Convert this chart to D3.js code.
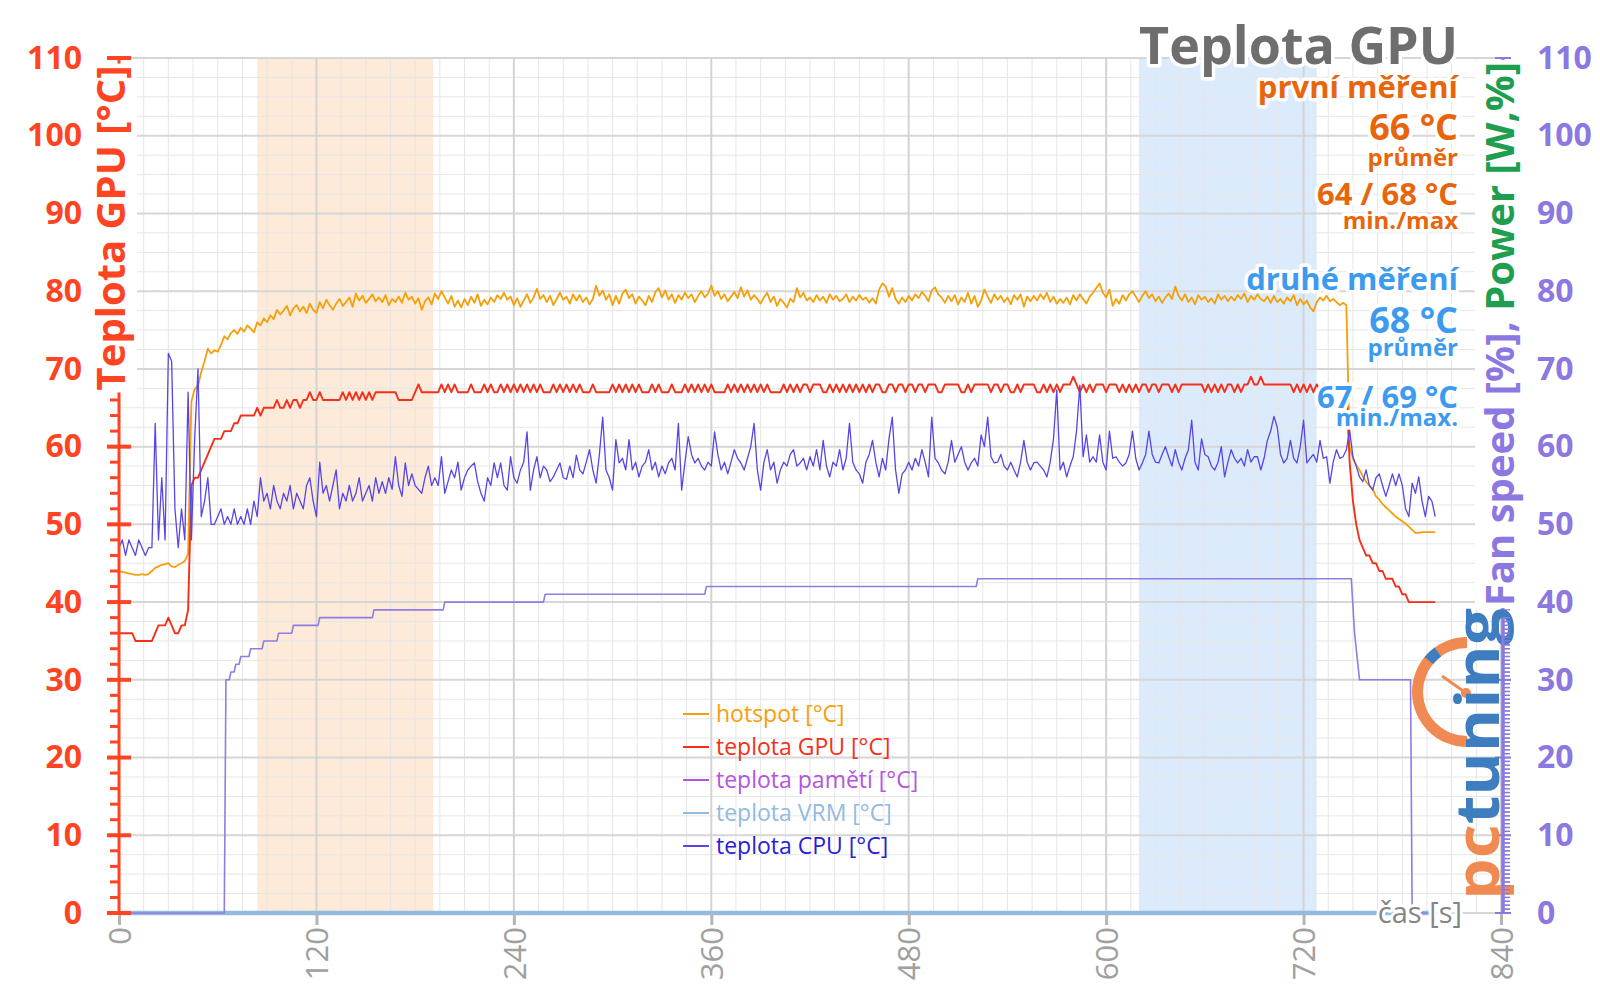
<!DOCTYPE html>
<html><head><meta charset="utf-8">
<script src="https://cdn.jsdelivr.net/npm/d3@7"></script>
<style>
html,body{margin:0;padding:0;background:#fff;}
svg{display:block;font-family:"Open Sans",sans-serif;}
</style></head><body>
<svg id="chart" width="1600" height="1008"></svg>
<script>
// ---------- data ----------
const xTicks = [0, 120, 240, 360, 480, 600, 720, 840];
const yTicks = [0, 10, 20, 30, 40, 50, 60, 70, 80, 90, 100, 110];
const sampleStep = 2; // seconds between samples, first sample at 0 s

const hotspot = [
44.0,43.9,43.8,43.7,43.6,43.5,43.5,43.6,43.5,43.6,
44.0,44.4,44.6,44.8,44.9,45.0,44.6,44.5,44.8,45.0,
45.3,46.2,65.8,67.4,67.8,69.6,71.0,72.6,72.0,72.4,
72.2,73.1,74.2,73.8,74.6,75.0,74.5,75.3,74.8,75.6,
75.2,74.7,76.0,75.6,76.5,76.0,76.9,76.4,77.6,77.0,
77.5,78.1,76.9,77.8,78.2,77.4,78.0,77.2,78.4,77.6,
77.2,78.6,77.8,78.9,78.2,77.6,78.4,79.0,78.1,78.6,
79.2,78.0,79.7,78.8,79.4,78.5,79.0,79.6,78.7,79.2,
78.6,79.5,78.2,79.0,78.6,79.3,78.5,79.8,78.9,79.3,
78.4,79.1,77.6,78.7,79.2,78.3,79.7,79.0,80.0,79.2,
78.4,79.4,78.0,78.8,77.9,79.0,78.2,79.3,78.5,79.6,
78.1,78.9,78.3,79.2,78.6,79.5,79.0,79.8,78.9,79.3,
78.2,79.1,78.0,78.8,79.6,78.5,79.2,80.3,79.0,79.5,
78.6,79.4,78.2,79.0,79.8,78.9,79.3,78.4,79.6,78.8,
79.5,78.6,79.2,78.3,79.0,80.7,79.4,80.1,78.9,79.6,
78.2,79.4,78.4,79.7,80.2,79.1,79.6,78.4,79.3,78.8,
78.2,79.4,78.6,79.9,80.4,79.2,80.1,78.9,79.6,78.5,
79.5,78.9,79.8,79.1,79.6,78.6,79.4,80.0,79.2,79.7,
80.7,79.4,80.0,79.0,79.6,78.7,79.3,79.9,79.1,80.5,
79.3,80.1,78.9,79.5,79.0,78.4,79.2,79.8,78.6,79.3,
78.1,79.0,78.5,77.9,79.0,78.6,80.4,79.2,79.8,78.8,
79.2,78.6,79.5,78.8,79.3,78.5,79.6,78.9,79.4,78.7,
79.0,79.6,78.6,79.3,78.8,79.5,78.9,79.2,78.5,79.1,
78.4,80.2,81.0,80.6,79.3,80.4,79.0,78.4,79.2,78.6,
79.4,78.8,79.6,79.1,79.9,79.4,78.7,80.1,80.5,79.6,
79.2,78.5,79.4,78.7,79.5,78.3,79.2,78.6,79.8,78.4,
79.4,78.0,78.8,80.2,79.3,78.5,79.6,78.9,79.4,78.6,
79.2,78.3,79.5,78.9,79.6,78.0,79.3,78.7,79.4,78.8,
79.6,79.0,79.8,78.6,79.3,78.4,79.0,78.5,79.2,78.3,
79.5,78.8,79.6,79.0,78.4,79.3,79.8,80.4,81.0,79.8,
79.2,80.2,78.1,79.0,78.4,79.5,78.8,79.6,80.0,79.3,
78.6,79.4,80.0,79.1,79.6,78.7,79.3,78.5,79.2,79.7,
79.0,80.6,79.4,78.8,79.6,78.6,79.2,78.3,79.5,78.9,
79.3,78.6,79.1,78.4,79.6,78.9,79.4,78.7,79.3,78.8,
79.5,79.0,79.7,78.6,79.4,78.9,79.6,79.0,78.7,79.3,
78.5,79.4,78.6,79.0,78.4,79.2,78.7,79.5,78.2,79.0,
78.3,78.8,77.9,77.4,78.6,79.2,78.8,79.4,78.7,79.0,
78.6,78.2,78.5,78.2,60.0,58.5,57.6,57.0,56.2,55.5,
55.0,54.6,53.6,53.2,52.6,52.2,51.8,51.4,51.0,50.7,
50.4,50.1,49.7,49.3,48.9,48.9,49.0,49.0,49.0,49.0,
49.0];

const gpuTemp = [
36,36,36,36,36,35,35,35,35,35,
35,36,37,37,37,38,37,36,36,37,
37,39,55,56,56,57,58,59,60,61,
61,61,62,62,62,63,63,64,64,64,
64,64,65,64,65,65,65,65,66,65,
65,66,65,66,66,65,66,66,67,66,
66,67,66,66,66,66,66,66,67,66,
67,66,67,66,67,66,67,66,67,67,
67,67,67,67,67,66,66,66,66,66,
67,68,67,67,67,67,67,67,68,67,
68,67,68,67,67,67,67,68,67,67,
67,68,67,68,67,67,68,67,68,67,
68,67,68,67,68,67,68,67,68,67,
67,67,68,67,68,67,68,67,68,67,
68,67,67,67,68,67,67,67,67,67,
68,67,68,67,68,67,68,67,68,67,
67,67,68,67,68,67,67,67,68,67,
67,67,68,67,68,67,68,67,68,67,
68,67,67,67,67,68,67,68,67,68,
67,68,67,68,67,68,67,68,67,67,
67,67,68,67,68,67,68,67,68,68,
67,68,68,68,67,67,68,67,68,67,
68,67,68,67,68,67,68,67,68,67,
68,68,67,67,68,68,67,68,68,67,
68,68,67,68,68,67,68,68,68,67,
67,68,68,68,68,68,67,67,68,67,
68,68,68,68,68,67,68,68,67,68,
68,67,67,68,67,68,68,68,68,67,
67,68,67,68,67,68,67,68,68,68,
69,68,67,68,67,68,67,68,68,68,
67,68,68,68,67,68,67,68,67,68,
67,68,68,67,68,68,67,68,68,68,
67,68,67,68,68,68,68,68,68,68,
67,68,67,68,67,68,67,68,68,67,
68,67,68,68,69,68,68,69,68,68,
68,68,68,68,68,68,68,67,68,67,
68,67,68,67,68,67,68,68,68,68,
68,68,68,68,58,53,50,48,47,46,
46,45,45,44,44,43,43,43,42,42,
41,41,40,40,40,40,40,40,40,40,
40];

const cpuTemp = [
47,48,46,48,47,46,48,47,46,47,
47,63,48,56,48,72,71,52,47,52,
48,67,48,61,70,51,53,56,50,50,
51,52,50,51,50,52,50,51,50,52,
50,53,51,56,53,54,52,55,53,52,
54,53,55,52,54,53,52,55,56,53,
51,58,54,55,53,55,57,52,54,53,
55,53,54,56,53,54,55,53,56,54,
55.5,54,56,54.5,58.7,55,53.6,57.9,55,56.5,
55,54.5,54,56,57.5,55,56,55,58.7,54,
55.5,57,56,58,54.4,56,57,57.5,57.9,55.5,
54,53,56,55,57.9,56,57.9,55,54.4,58.7,
56,55.3,57,58,61.9,54.4,57,58.7,56,57.5,
57,55.5,56.1,57,57.9,56,55.8,57.5,56,58.9,
57,56.5,58,59.6,57,55.3,59,63.8,57,56,
54.4,60.9,57.9,58.5,57,60.9,57,58,56.1,57.5,
58,59.6,57,58,56.1,57.5,56.5,57.9,58.5,57,
63,54.4,58,61.3,59,57.9,58.5,57.5,57,58,
57.5,61.9,59,57,58,56.5,58,59.6,58.5,57.9,
57,58.5,60,63,57,54.4,58,59.6,57,58,
55.3,57,58,57.5,59,59.6,57.5,57.9,58.5,57,
58.7,57.5,59.6,57,60.8,57.5,56.1,58,57.5,59.6,
57,58.5,63,58,57,56.5,55.3,58,59,60.8,
58,56.1,58.5,57,61,63.8,57,54,56.5,57,
58,57,58.5,57.5,59.6,58,56.1,63.8,58.5,57.9,
57,56.5,58,60.8,58,59,60,58,57,57.9,
58.5,57.5,61.5,60,63.8,58.7,57.9,58,59,57.5,
57,58,57,56.1,58,60.8,58,57,57.9,58,
57.5,57,56.1,58,61,67.3,57,58,56.1,57.5,
58.7,62,67.9,58.7,61.5,58,58.7,58,61.5,58,
57,62,58.5,58.7,58,57.5,57.9,59,62,58.5,
57,57.9,59,62,59,58,57.9,59,60,58.7,
57.5,59.6,58,57,58.5,59.6,63.4,58,57,61,
59,58.7,57.5,57,58,60,56.1,58,59.6,58.5,
57.9,58.5,57.5,59.6,58,58.7,58.7,57,58.5,60.8,
62,63.9,62.5,59,57.9,58.5,60.8,58.5,57.9,60,
63.4,57.9,58.5,59,58,60.8,58.5,58.7,55.3,58,
59.6,58.5,58.7,59.6,62.1,58.7,57.5,56.1,55.5,57,
55,54.4,56,56.5,55,53.6,55,56.5,55,56.5,
55,52,51,55.3,54,56.1,53,51,53.6,53,
51];

// fan speed (right axis) – step line, time / value pairs
const fanT = [0,64,65,67,68,70,71,73,74,79,80,87,88,96,97,105,106,121,122,154,155,197,198,258,259,356,357,521,522,749,751,754,785,786,800];
const fanV = [0,0,30,30,31,31,32,32,33,33,34,34,35,35,36,36,37,37,38,38,39,39,40,40,41,41,42,42,43,43,36,30,30,0,0];

// memory & VRM temperature (no reading -> 0)
const flatT = [0, 800];
const memTemp = [0, 0];
const vrmTemp = [0, 0];

// highlighted measurement windows [start s, end s]
const bandStart = [84, 620];
const bandEnd = [191, 728];

const legendLabels = ["hotspot [°C]", "teplota GPU [°C]", "teplota pamětí [°C]", "teplota VRM [°C]", "teplota CPU [°C]"];

// ---------- drawing ----------
const svg = d3.select("#chart");
const x = d3.scaleLinear().domain([0, 840]).range([119, 1501]);
const y = d3.scaleLinear().domain([0, 110]).range([913, 58]);

const C = {
  hot: "#F5A00A", gpu: "#F5301A", mem: "#B455E0", vrm: "#93BADF", cpu: "#5646E6", fan: "#8E7DE2",
  left: "#FF4422", right: "#8C78E0", green: "#1F9E4F", grey: "#6e6e6e", first: "#E8650C", second: "#3D9BEE"
};

svg.append("rect").attr("width", 1600).attr("height", 1008).attr("fill", "#fff");

// bands
const bandColors = ["#FDEAD9", "#DCEBFB"];
bandStart.forEach((s, i) => {
  svg.append("rect").attr("x", x(s)).attr("y", y(110)).attr("width", x(bandEnd[i]) - x(s))
    .attr("height", y(0) - y(110)).attr("fill", bandColors[i]);
});

// grid
const grid = svg.append("g");
d3.range(0, 841, 15).filter(t => t % 120 !== 0).forEach(t => {
  grid.append("line").attr("x1", x(t)).attr("x2", x(t)).attr("y1", y(110)).attr("y2", y(0))
    .attr("stroke", "#e6e6e6").attr("stroke-width", 1);
});
d3.range(0, 110.1, 2.5).filter(v => v % 10 !== 0).forEach(v => {
  grid.append("line").attr("x1", x(0)).attr("x2", x(840)).attr("y1", y(v)).attr("y2", y(v))
    .attr("stroke", "#e6e6e6").attr("stroke-width", 1);
});
yTicks.forEach(v => {
  grid.append("line").attr("x1", x(0)).attr("x2", x(840)).attr("y1", y(v)).attr("y2", y(v))
    .attr("stroke", "#d6d6d6").attr("stroke-width", 2);
});
xTicks.forEach(t => {
  grid.append("line").attr("x1", x(t)).attr("x2", x(t)).attr("y1", y(110)).attr("y2", y(0))
    .attr("stroke", "#d3d3d3").attr("stroke-width", 2);
});

// series
const tOf = i => i * sampleStep;
function drawSeries(vals, color, width, times) {
  const line = d3.line().x((d, i) => x(times ? times[i] : tOf(i))).y(d => y(d));
  svg.append("path").datum(vals).attr("d", line).attr("fill", "none")
    .attr("stroke", color).attr("stroke-width", width).attr("stroke-linejoin", "round");
}
drawSeries(hotspot, C.hot, 1.8);
drawSeries(gpuTemp, C.gpu, 1.9);
drawSeries(memTemp, C.mem, 2, flatT);
drawSeries(vrmTemp, C.vrm, 4.5, flatT);
drawSeries(cpuTemp, C.cpu, 1.3);
drawSeries(fanV, C.fan, 1.6, fanT);

// x axis
const xAxis = svg.append("g").attr("transform", `translate(0,${y(0)})`)
  .call(d3.axisBottom(x).tickValues(xTicks).tickSize(12).tickFormat(d3.format("d")));
xAxis.select(".domain").remove();
xAxis.selectAll(".tick line").attr("stroke", "#b5b5b5").attr("stroke-width", 3);
xAxis.selectAll(".tick text").attr("transform", "rotate(-90)").attr("x", -14).attr("y", 0)
  .attr("dy", "0.36em").attr("text-anchor", "end").attr("fill", "#a0a0a0")
  .attr("font-size", 31).attr("font-family", "Open Sans");

// left axis
const yl = svg.append("g").attr("transform", `translate(${x(0)},0)`)
  .call(d3.axisLeft(y).tickValues(yTicks).tickSize(0).tickPadding(37));
yl.select(".domain").remove();
yl.selectAll(".tick text").attr("fill", C.left).attr("font-size", 32).attr("font-weight", 700)
  .attr("font-family", "Open Sans");
svg.append("line").attr("x1", x(0)).attr("x2", x(0)).attr("y1", y(110)).attr("y2", y(0))
  .attr("stroke", C.left).attr("stroke-width", 3);
d3.range(0, 110.1, 2).forEach(v => {
  svg.append("line").attr("x1", x(0) - 9).attr("x2", x(0)).attr("y1", y(v)).attr("y2", y(v))
    .attr("stroke", C.left).attr("stroke-width", 3);
});
function leftMajor(v) {
  svg.append("line").attr("x1", x(0) - 12).attr("x2", x(0) + 12).attr("y1", y(v)).attr("y2", y(v))
    .attr("stroke", C.left).attr("stroke-width", 4);
}
yTicks.forEach(leftMajor);

// right axis
const xr = 1503;
const yr = svg.append("g").attr("transform", `translate(${xr},0)`)
  .call(d3.axisRight(y).tickValues(yTicks).tickSize(0).tickPadding(34));
yr.select(".domain").remove();
yr.selectAll(".tick text").attr("fill", C.right).attr("font-size", 32).attr("font-weight", 700)
  .attr("font-family", "Open Sans");
svg.append("line").attr("x1", xr).attr("x2", xr).attr("y1", y(110)).attr("y2", y(0))
  .attr("stroke", C.right).attr("stroke-width", 3);
d3.range(0, 110.1, 0.5).forEach(v => {
  svg.append("line").attr("x1", xr).attr("x2", xr + 7).attr("y1", y(v)).attr("y2", y(v))
    .attr("stroke", C.right).attr("stroke-width", 1.3);
});
function rightMajor(v) {
  svg.append("line").attr("x1", xr - 8).attr("x2", xr + 8).attr("y1", y(v)).attr("y2", y(v))
    .attr("stroke", C.right).attr("stroke-width", 2);
}
yTicks.forEach(rightMajor);

// halo text helper
function halo(sel, w) {
  return sel.attr("stroke", "#fff").attr("stroke-width", w).attr("stroke-linejoin", "round")
    .attr("paint-order", "stroke");
}
function boxedTitle(tf) {
  const g = svg.append("g").attr("transform", tf);
  const r = g.append("rect").attr("fill", "#fff");
  const t = g.append("text").attr("text-anchor", "middle").attr("font-size", 40).attr("font-weight", 700);
  return [g, r, t];
}
function fitBox(r, t) {
  const b = t.node().getBBox();
  r.attr("x", b.x - 2).attr("y", b.y + 4).attr("width", b.width + 4).attr("height", b.height - 4);
}

// axis titles
const [lg, lr, ltx] = boxedTitle("translate(125,228) rotate(-90)");
ltx.attr("fill", C.left).text("Teplota GPU [°C]");
fitBox(lr, ltx);

// logo watermark
const logo = svg.append("g");
logo.append("path")
  .attr("d", d3.arc().innerRadius(44).outerRadius(55).startAngle(Math.PI).endAngle(2 * Math.PI)())
  .attr("transform", "translate(1467,692)").attr("fill", "#F08A52");
logo.append("path")
  .attr("d", d3.arc().innerRadius(44).outerRadius(55).startAngle(1.72 * Math.PI).endAngle(1.8 * Math.PI)())
  .attr("transform", "translate(1467,692)").attr("fill", "#3D7DC0");
logo.append("line").attr("x1", 1466).attr("y1", 693).attr("x2", 1442).attr("y2", 676)
  .attr("stroke", "#F08A52").attr("stroke-width", 3);
logo.append("circle").attr("cx", 1466).attr("cy", 693).attr("r", 5).attr("fill", "#F08A52");

const [rg, rr, rtx] = boxedTitle("translate(1514,334) rotate(-90)");
rtx.append("tspan").attr("fill", C.right).text("Fan speed [%], ");
rtx.append("tspan").attr("fill", C.green).text("Power [W,%]");
fitBox(rr, rtx);

const lt = logo.append("text").attr("transform", "translate(1499,900) rotate(-90)")
  .attr("font-size", 60).attr("font-weight", 700).attr("textLength", 292).attr("lengthAdjust", "spacingAndGlyphs");
lt.append("tspan").text("pc").attr("fill", "#F08A52");
lt.append("tspan").text("tuning").attr("fill", "#3D7DC0");
logo.raise();
// right axis segment visible over the logo
svg.append("line").attr("x1", xr).attr("x2", xr).attr("y1", y(38)).attr("y2", y(0))
  .attr("stroke", C.right).attr("stroke-width", 3);
d3.range(0, 38.1, 0.5).forEach(v => {
  svg.append("line").attr("x1", xr).attr("x2", xr + 7).attr("y1", y(v)).attr("y2", y(v))
    .attr("stroke", C.right).attr("stroke-width", 1.3);
});

// top ticks stay visible above the titles
leftMajor(110);
rightMajor(110);

// x axis title
halo(svg.append("text").attr("x", 1462).attr("y", 923).attr("text-anchor", "end")
  .attr("font-size", 29).attr("fill", "#858585").text("čas [s]"), 6);

// title + stats block
const tx = 1458;
const info = [
  ["Teplota GPU", 64, 52, C.grey],
  ["první měření", 98, 31, C.first],
  ["66 °C", 140, 36, C.first],
  ["průměr", 166, 24, C.first],
  ["64 / 68 °C", 205, 31, C.first],
  ["min./max", 229, 24, C.first],
  ["druhé měření", 290, 31, C.second],
  ["68 °C", 333, 36, C.second],
  ["průměr", 356, 24, C.second],
  ["67 / 69 °C", 408, 31, C.second],
  ["min./max.", 426, 24, C.second]
];
info.forEach(d => {
  halo(svg.append("text").attr("x", tx).attr("y", d[1]).attr("text-anchor", "end")
    .attr("font-size", d[2]).attr("font-weight", 700).attr("fill", d[3]).text(d[0]), 7);
});

// legend
const legColors = [C.hot, C.gpu, C.mem, C.vrm, "#2A20D8"];
const legLine = [C.hot, C.gpu, C.mem, C.vrm, C.cpu];
legendLabels.forEach((lab, i) => {
  const ly = 714 + i * 33;
  svg.append("line").attr("x1", 683).attr("x2", 709).attr("y1", ly).attr("y2", ly)
    .attr("stroke", legLine[i]).attr("stroke-width", 2);
  svg.append("text").attr("x", 716).attr("y", ly).attr("dy", "0.36em").attr("font-size", 23)
    .attr("fill", legColors[i]).text(lab);
});
</script>
</body></html>
